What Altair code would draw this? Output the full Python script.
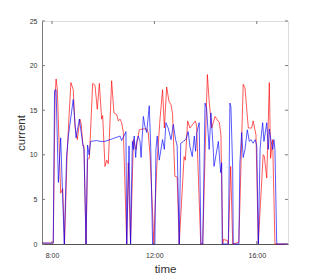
import altair as alt
import pandas as pd

# time in decimal hours, current values
red_t = [7.61, 8.05, 8.12, 8.16, 8.21, 8.34, 8.42, 8.49, 8.59, 8.66, 8.74, 8.83, 8.90, 8.99,
         9.09, 9.14, 9.21, 9.25, 9.33, 9.39, 9.46, 9.59, 9.68, 9.77, 9.85, 9.94, 9.98, 10.07,
         10.14, 10.20, 10.33, 10.42, 10.53, 10.59, 10.66, 10.72, 10.79, 10.92, 10.98, 11.07,
         11.18, 11.28, 11.41, 11.55, 11.70, 11.76, 11.83, 11.93, 11.98, 12.02, 12.10, 12.22,
         12.32, 12.39, 12.48, 12.57, 12.65, 12.71, 12.80, 12.89, 12.97, 13.16, 13.21, 13.30,
         13.39, 13.52, 13.60, 13.65, 13.81, 13.89, 13.98, 14.07, 14.14, 14.24, 14.37, 14.46,
         14.54, 14.60, 14.67, 14.70, 14.85, 14.89, 14.98, 15.06, 15.30, 15.47, 15.54, 15.67,
         15.80, 15.86, 15.97, 16.06, 16.13, 16.25, 16.29, 16.39, 16.49, 16.54, 16.62, 16.71,
         17.22]
red_v = [0.1, 0.1, 16.5, 18.5, 17.3, 5.7, 6.2, 0.0, 10.0, 14.0, 18.1, 17.3, 13.2, 11.7,
         14.0, 13.5, 11.0, 11.0, 0.0, 9.5, 9.6, 18.0, 17.8, 15.1, 18.0, 14.0, 14.4, 8.7,
         9.4, 9.0, 18.3, 14.7, 14.5, 13.8, 14.0, 13.6, 12.5, 0.0, 9.1, 0.0,
         11.7, 10.6, 12.8, 12.9, 12.9, 12.5, 10.0, 3.5, 0.0, 3.5, 9.0, 14.0,
         17.3, 13.0, 17.6, 16.0, 15.6, 14.6, 7.6, 7.5, 0.0, 9.8, 9.4, 13.8,
         13.0, 13.5, 13.8, 13.2, 0.0, 0.0, 10.0, 19.0, 16.0, 13.0, 14.3, 13.9,
         13.6, 12.2, 0.0, 0.5, 0.4, 0.0, 8.7, 0.0, 0.2, 17.9, 17.5, 13.0,
         13.0, 13.8, 12.2, 0.0, 3.8, 10.0, 9.9, 7.4, 18.1, 9.6, 11.7, 0.0,
         0.0]

blue_t = [7.61, 8.05, 8.10, 8.16, 8.25, 8.34, 8.48, 8.57, 8.64, 8.83, 8.94, 9.07, 9.20, 9.25,
          9.33, 9.39, 9.45, 9.51, 9.75, 9.88, 10.07, 10.66, 10.72, 10.81, 10.89, 10.92, 11.01,
          11.07, 11.14, 11.18, 11.21, 11.27, 11.31, 11.37, 11.44, 11.48, 11.57, 11.63, 11.70,
          11.80, 11.86, 11.93, 12.02, 12.06, 12.11, 12.19, 12.32, 12.39, 12.45, 12.54, 12.65,
          12.74, 12.83, 12.89, 12.97, 13.03, 13.13, 13.23, 13.32, 13.39, 13.48, 13.56, 13.61,
          13.66, 13.75, 13.82, 13.89, 13.98, 14.04, 14.14, 14.21, 14.30, 14.33, 14.50, 14.59,
          14.63, 14.65, 14.89, 14.95, 14.99, 15.06, 15.08, 15.30, 15.34, 15.41, 15.47, 15.54,
          15.63, 15.71, 15.77, 15.86, 15.94, 16.00, 16.06, 16.13, 16.16, 16.23, 16.28, 16.39,
          16.45, 16.49, 16.55, 16.62, 16.67, 16.71, 16.78, 17.22]
blue_v = [0.1, 0.1, 17.2, 17.3, 6.9, 11.9, 0.0, 9.8, 12.1, 16.2, 11.9, 14.0, 11.3, 10.6,
          0.0, 11.1, 10.0, 11.5, 11.6, 11.5, 11.5, 12.1, 11.6, 12.1, 12.6, 0.0, 11.0,
          0.0, 11.5, 10.6, 12.1, 9.7, 11.5, 12.1, 11.5, 9.7, 14.3, 13.2, 12.5,
          15.5, 10.6, 0.0, 0.0, 10.6, 12.1, 9.4, 11.7, 10.6, 13.6, 13.0, 11.7,
          13.4, 11.7, 11.0, 0.0, 11.3, 11.5, 11.7, 12.6, 10.9, 9.8, 12.1, 10.4,
          12.5, 13.6, 0.0, 0.0, 15.8, 15.2, 10.6, 14.7, 10.6, 8.7, 11.5, 8.0,
          9.1, 0.0, 0.0, 15.8, 15.4, 8.3, 0.0, 0.0, 9.1, 12.5, 9.7, 10.6,
          12.8, 11.5, 11.7, 11.3, 11.7, 11.0, 0.0, 10.6, 11.7, 13.6, 11.5, 13.6,
          10.6, 12.9, 11.7, 10.6, 11.7, 10.6, 0.0, 0.0]

x_ticks = [8, 12, 16]
y_ticks = [0, 5, 10, 15, 20, 25]
x_domain = [7.61, 17.22]
y_domain = [0, 25]

W, H = 246, 223
AXC = "#7a7a7a"
TXT = "#333333"

red_df = pd.DataFrame({"t": red_t, "v": red_v})
blue_df = pd.DataFrame({"t": blue_t, "v": blue_v})

xs = alt.Scale(domain=x_domain, nice=False, zero=False)
ys = alt.Scale(domain=y_domain, nice=False, zero=False)

xax = alt.Axis(values=x_ticks, labelExpr="datum.value + ':00'", title="time",
               grid=False, ticks=False, domainColor="#555555", labelColor=TXT,
               labelFontSize=7, labelPadding=7, titleFontSize=11.5,
               titleFontWeight="normal", titleColor=TXT, titlePadding=5,
               labelFont="Liberation Sans", titleFont="Liberation Sans")
yax = alt.Axis(values=y_ticks, title="current", grid=False, ticks=False,
               domainColor=AXC, labelColor=TXT, labelFontSize=7, labelPadding=5,
               titleFontSize=11.5, titleFontWeight="normal", titleColor=TXT,
               titlePadding=3, labelFont="Liberation Sans", titleFont="Liberation Sans")

red = alt.Chart(red_df).mark_line(color="#ff0000", opacity=0.65, strokeWidth=1).encode(
    x=alt.X("t:Q", scale=xs, axis=xax),
    y=alt.Y("v:Q", scale=ys, axis=yax),
)
blue = alt.Chart(blue_df).mark_line(color="#0000ff", opacity=0.65, strokeWidth=1).encode(
    x=alt.X("t:Q", scale=xs),
    y=alt.Y("v:Q", scale=ys),
)

xt = pd.DataFrame({"t": x_ticks})
yt = pd.DataFrame({"v": y_ticks})
tick_bottom = alt.Chart(xt).mark_rule(color=AXC, strokeWidth=1).encode(
    x=alt.X("t:Q", scale=xs), y=alt.value(H), y2=alt.value(H - 3))
tick_top = alt.Chart(xt).mark_rule(color=AXC, strokeWidth=1).encode(
    x=alt.X("t:Q", scale=xs), y=alt.value(0), y2=alt.value(3))
tick_left = alt.Chart(yt).mark_rule(color=AXC, strokeWidth=1).encode(
    y=alt.Y("v:Q", scale=ys), x=alt.value(0), x2=alt.value(3))
tick_right = alt.Chart(yt).mark_rule(color=AXC, strokeWidth=1).encode(
    y=alt.Y("v:Q", scale=ys), x=alt.value(W - 3), x2=alt.value(W))

chart = alt.layer(red, blue, tick_bottom, tick_top, tick_left, tick_right).properties(
    width=W, height=H,
    autosize=alt.AutoSizeParams(type="none"),
    padding={"left": 34, "top": 13, "right": 15, "bottom": 32},
).configure_view(stroke=AXC, strokeWidth=1).configure(background="white")

chart.save("out.html", embed_options={"renderer": "svg", "actions": False})
